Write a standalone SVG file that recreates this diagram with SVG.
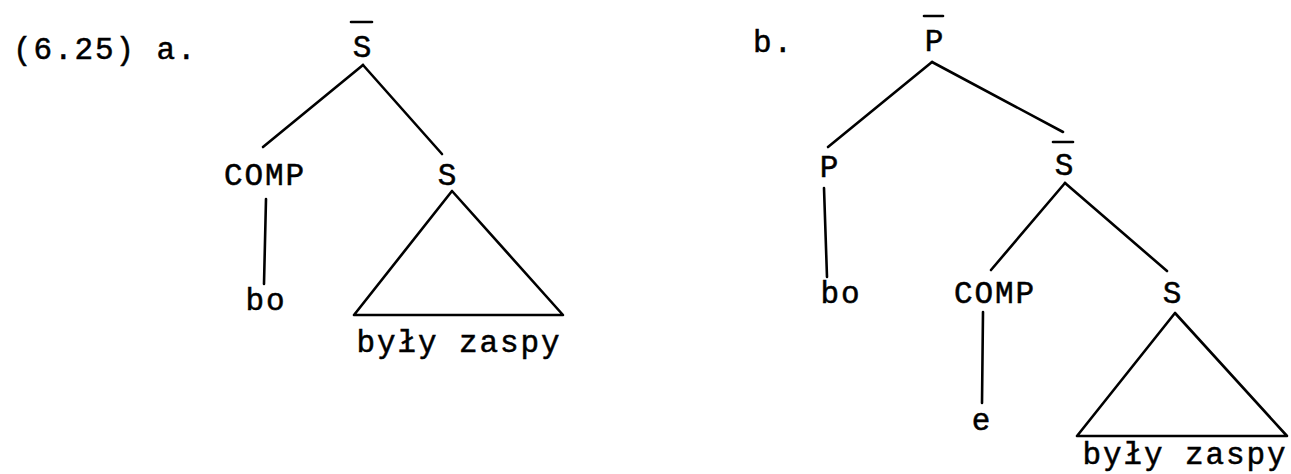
<svg xmlns="http://www.w3.org/2000/svg" width="1291" height="474" viewBox="0 0 1291 474">
<style>
text{font-family:"Liberation Mono","Courier New",monospace;font-size:31px;letter-spacing:1.9px;fill:#000;stroke:#000;stroke-width:0.5;text-anchor:middle}
.l{text-anchor:start}
line,polygon{stroke:#000;stroke-width:2.6;fill:none;stroke-linecap:round;stroke-linejoin:round}
</style>
<rect width="1291" height="474" fill="#fff"/>
<text class="l" x="13" y="59">(6.25) a.</text>
<text class="l" x="753" y="52">b.</text>
<g id="a-root"><text x="363" y="57">S</text><line x1="351" y1="22" x2="372" y2="22"/></g>
<g id="a-comp"><text x="265" y="185">COMP</text></g>
<g id="a-s"><text x="448" y="185">S</text></g>
<g id="a-bo"><text x="266" y="310">bo</text></g>
<g id="a-tri"><polygon points="452,191 354,315 563,315"/><text x="459" y="352">były zaspy</text></g>
<g id="b-root"><text x="935" y="51">P</text><line x1="924" y1="16" x2="943" y2="16"/></g>
<g id="b-p"><text x="830" y="177">P</text></g>
<g id="b-sbar"><text x="1065" y="175">S</text><line x1="1053" y1="142" x2="1073" y2="142"/></g>
<g id="b-bo"><text x="841" y="303">bo</text></g>
<g id="b-comp"><text x="995" y="303">COMP</text></g>
<g id="b-s"><text x="1173" y="303">S</text></g>
<g id="b-e"><text x="982" y="430">e</text></g>
<g id="b-tri"><polygon points="1175,313 1077,436 1287,436"/><text x="1185" y="464">były zaspy</text></g>
<g id="connectors">
<line x1="363" y1="65" x2="263" y2="147"/>
<line x1="363" y1="65" x2="442" y2="154"/>
<line x1="266" y1="199" x2="264" y2="284"/>
<line x1="932" y1="62" x2="828" y2="147"/>
<line x1="932" y1="62" x2="1063" y2="132"/>
<line x1="824" y1="188" x2="827" y2="277"/>
<line x1="1065" y1="183" x2="991" y2="270"/>
<line x1="1065" y1="183" x2="1167" y2="271"/>
<line x1="983" y1="312" x2="982" y2="403"/>
</g>
</svg>
